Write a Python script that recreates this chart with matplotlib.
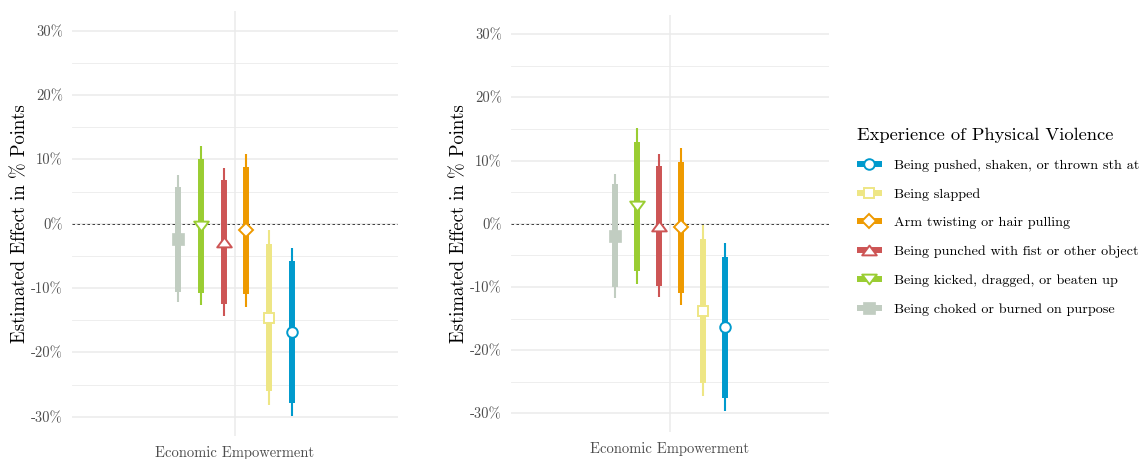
import matplotlib
matplotlib.use("Agg")
import matplotlib.pyplot as plt
from matplotlib.lines import Line2D
from matplotlib.path import Path

plt.rcParams['font.family'] = ['cmr10', 'DejaVu Serif']
plt.rcParams['axes.unicode_minus'] = False

# Outcome categories, in dodge order (left to right)
categories = [
    "Being choked or burned on purpose",
    "Being kicked, dragged, or beaten up",
    "Being punched with fist or other object",
    "Arm twisting or hair pulling",
    "Being slapped",
    "Being pushed, shaken, or thrown sth at",
]
colors = ["#C1CDC1", "#9ACD32", "#CD5555", "#EE9A00", "#EEE685", "#009ACD"]
treatment = ["Economic Empowerment"]
y_ticks = [-30, -20, -10, 0, 10, 20, 30]
y_tick_labels = ["-30%", "-20%", "-10%", "0%", "10%", "20%", "30%"]

# Panel 1 estimates (percentage points) with 90% and 95% intervals
p1_est = [-2.4, -0.3, -2.8, -1.05, -14.6, -16.8]
p1_lo90 = [-10.6, -10.7, -12.5, -11.0, -26.0, -27.8]
p1_hi90 = [5.75, 10.1, 6.8, 8.86, -3.16, -5.86]
p1_lo95 = [-12.2, -12.6, -14.3, -12.9, -28.2, -29.9]
p1_hi95 = [7.5, 12.1, 8.66, 10.8, -0.98, -3.7]

# Panel 2 estimates (percentage points) with 90% and 95% intervals
p2_est = [-1.9, 2.8, -0.3, -0.45, -13.8, -16.4]
p2_lo90 = [-10.0, -7.5, -9.8, -10.9, -25.2, -27.6]
p2_hi90 = [6.3, 13.0, 9.2, 9.86, -2.4, -5.3]
p2_lo95 = [-11.8, -9.5, -11.6, -12.8, -27.3, -29.7]
p2_hi95 = [7.9, 15.1, 11.1, 12.0, -0.16, -3.05]

tri_up = Path([(-1, -0.67), (1, -0.67), (0, 0.67), (-1, -0.67)],
              [Path.MOVETO, Path.LINETO, Path.LINETO, Path.CLOSEPOLY])
tri_down = Path([(-1, 0.67), (1, 0.67), (0, -0.67), (-1, 0.67)],
                [Path.MOVETO, Path.LINETO, Path.LINETO, Path.CLOSEPOLY])

marker_styles = [
    dict(marker="s", ms=8.0, mfc=colors[0], mec=colors[0], mew=0.5),
    dict(marker=tri_down, ms=10.5, mfc="white", mec=colors[1], mew=1.4),
    dict(marker=tri_up, ms=10.5, mfc="white", mec=colors[2], mew=1.4),
    dict(marker="D", ms=6.9, mfc="white", mec=colors[3], mew=1.4),
    dict(marker="s", ms=7.4, mfc="white", mec=colors[4], mew=1.4),
    dict(marker="o", ms=7.6, mfc="white", mec=colors[5], mew=1.4),
]

W, H = 1144, 459
fig = plt.figure(figsize=(W / 100, H / 100), dpi=100)
fig.patch.set_facecolor("white")

dodge = 0.5 / 6
grid_col = "#EBEBEB"
tick_col = "#4D4D4D"


def panel(rect_px, est, lo90, hi90, lo95, hi95):
    x0, y0, x1, y1 = rect_px
    ax = fig.add_axes([x0 / W, 1 - y1 / H, (x1 - x0) / W, (y1 - y0) / H])
    ax.set_xlim(0.4, 1.6)
    ax.set_ylim(-33, 33)
    for s in ax.spines.values():
        s.set_visible(False)
    ax.set_yticks(y_ticks)
    ax.set_yticklabels(y_tick_labels)
    ax.set_yticks([-25, -15, -5, 5, 15, 25], minor=True)
    ax.set_xticks([1])
    ax.set_xticklabels(treatment)
    ax.tick_params(axis="both", which="both", length=0)
    ax.tick_params(axis="y", labelsize=10.5, labelcolor=tick_col, pad=6.5)
    ax.tick_params(axis="x", labelsize=10.5, labelcolor=tick_col, pad=7)
    ax.grid(True, which="major", color=grid_col, lw=1.1)
    ax.grid(True, which="minor", axis="y", color=grid_col, lw=0.6)
    ax.set_axisbelow(True)
    ax.axhline(0, color="#222222", lw=0.6, ls=(0, (3, 3)), zorder=1)
    for i in range(len(categories)):
        x = 1 + (i - 2.5) * dodge
        ax.vlines(x, lo95[i], hi95[i], color=colors[i], lw=1.5, zorder=2)
        ax.vlines(x, lo90[i], hi90[i], color=colors[i], lw=4.3, zorder=3)
        ax.plot([x], [est[i]], ls="none", zorder=4, **marker_styles[i])
    ax.set_ylabel("Estimated Effect in % Points", fontsize=13.5, color="black", labelpad=1)
    return ax


ax1 = panel((72, 11.4, 398, 436), p1_est, p1_lo90, p1_hi90, p1_lo95, p1_hi95)
ax2 = panel((511, 15.3, 829, 432.3), p2_est, p2_lo90, p2_hi90, p2_lo95, p2_hi95)

handles = []
for i in range(len(categories)):
    handles.append(Line2D([], [], color=colors[i], lw=4.3, solid_capstyle="butt",
                          **marker_styles[i]))
order = list(range(len(categories)))[::-1]
leg = fig.legend([handles[i] for i in order], [categories[i] for i in order],
                 loc="upper left", bbox_to_anchor=(851 / W, 1 - 122 / H),
                 frameon=False, fontsize=10.2, title="Experience of Physical Violence",
                 title_fontsize=13.3, handlelength=1.8, handletextpad=0.85,
                 labelspacing=1.12, numpoints=1, borderaxespad=0)
leg._legend_box.align = "left"

fig.savefig("out.png", dpi=100, facecolor="white")
